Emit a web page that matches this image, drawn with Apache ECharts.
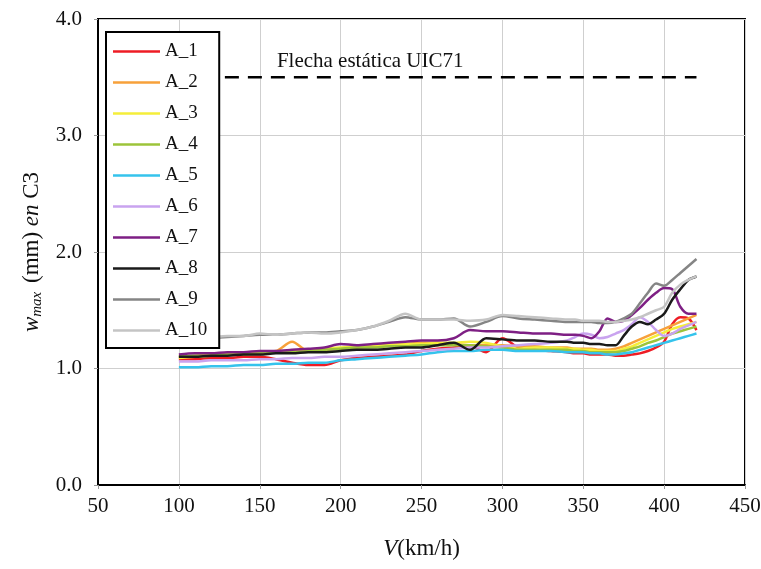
<!DOCTYPE html>
<html>
<head>
<meta charset="utf-8">
<script src="https://cdn.jsdelivr.net/npm/echarts@6/dist/echarts.min.js"></script>
<style>
html,body{margin:0;padding:0;background:#fff;}
#chart{width:761px;height:569px;}
</style>
</head>
<body>
<div id="chart"></div>
<script>
// Speeds (km/h)
var speeds = [100,110,120,130,140,150,160,170,180,190,200,210,220,230,240,250,260,270,280,290,300,310,320,330,340,
  345,350,355,360,365,370,375,380,385,390,395,400,405,410,415,420];

var seriesNames = ['A_1','A_2','A_3','A_4','A_5','A_6','A_7','A_8','A_9','A_10'];
var seriesColors = ['#ee1c25','#f7a13a','#f5ee3a','#9cc43a','#35c3ec','#c9a3ef','#7e1f84','#1a1a1a','#858585','#c4c4c4'];

var A_1 = [1.08,1.08,1.09,1.09,1.10,1.10,1.08,1.05,1.03,1.03,1.07,1.09,1.10,1.11,1.12,1.15,1.17,1.18,1.19,1.14,1.26,1.18,1.16,1.15,1.14,
  1.13,1.13,1.12,1.12,1.12,1.11,1.11,1.12,1.13,1.15,1.18,1.23,1.38,1.44,1.43,1.33];
var A_2 = [1.10,1.11,1.12,1.13,1.13,1.14,1.15,1.23,1.15,1.16,1.17,1.18,1.19,1.20,1.21,1.22,1.22,1.21,1.20,1.20,1.20,1.19,1.19,1.18,1.18,
  1.17,1.17,1.17,1.16,1.16,1.17,1.19,1.22,1.25,1.28,1.31,1.34,1.37,1.40,1.43,1.46];
var A_3 = [1.09,1.10,1.11,1.12,1.12,1.13,1.14,1.15,1.16,1.17,1.18,1.19,1.20,1.20,1.21,1.21,1.22,1.22,1.23,1.22,1.19,1.17,1.18,1.18,1.17,
  1.17,1.16,1.16,1.15,1.15,1.15,1.17,1.19,1.22,1.25,1.28,1.31,1.34,1.36,1.38,1.40];
var A_4 = [1.10,1.11,1.11,1.12,1.12,1.13,1.14,1.14,1.15,1.16,1.17,1.18,1.18,1.19,1.19,1.20,1.20,1.20,1.20,1.19,1.18,1.16,1.16,1.16,1.16,
  1.15,1.15,1.14,1.14,1.14,1.14,1.15,1.17,1.19,1.22,1.24,1.27,1.30,1.32,1.34,1.36];
var A_5 = [1.01,1.01,1.02,1.02,1.03,1.03,1.04,1.04,1.05,1.05,1.07,1.08,1.09,1.10,1.11,1.12,1.14,1.15,1.15,1.16,1.16,1.15,1.15,1.15,1.14,
  1.14,1.14,1.13,1.13,1.12,1.12,1.13,1.14,1.16,1.18,1.20,1.22,1.24,1.26,1.28,1.30];
var A_6 = [1.06,1.06,1.07,1.07,1.07,1.08,1.08,1.09,1.09,1.10,1.10,1.11,1.12,1.13,1.14,1.15,1.16,1.17,1.18,1.18,1.19,1.20,1.21,1.22,1.24,
  1.27,1.30,1.29,1.26,1.27,1.30,1.33,1.38,1.44,1.40,1.33,1.28,1.30,1.34,1.37,1.40];
var A_7 = [1.12,1.13,1.13,1.14,1.14,1.15,1.15,1.16,1.17,1.18,1.21,1.20,1.21,1.22,1.23,1.24,1.24,1.26,1.33,1.32,1.32,1.31,1.30,1.30,1.29,
  1.29,1.28,1.26,1.32,1.43,1.40,1.41,1.46,1.52,1.59,1.65,1.69,1.68,1.53,1.47,1.47];
var A_8 = [1.10,1.10,1.11,1.11,1.12,1.12,1.13,1.13,1.14,1.14,1.15,1.16,1.16,1.17,1.18,1.18,1.20,1.22,1.16,1.26,1.25,1.24,1.24,1.23,1.23,
  1.22,1.22,1.21,1.21,1.20,1.20,1.28,1.36,1.40,1.38,1.42,1.47,1.59,1.68,1.76,1.79];
var A_9 = [1.24,1.25,1.26,1.27,1.28,1.29,1.29,1.30,1.31,1.31,1.32,1.33,1.36,1.40,1.44,1.42,1.42,1.43,1.36,1.40,1.45,1.43,1.42,1.41,1.40,
  1.40,1.40,1.40,1.39,1.39,1.40,1.43,1.47,1.56,1.65,1.73,1.71,1.76,1.82,1.88,1.94];
var A_10 = [1.25,1.26,1.27,1.28,1.28,1.30,1.29,1.30,1.31,1.30,1.31,1.33,1.36,1.41,1.47,1.42,1.42,1.42,1.41,1.42,1.46,1.45,1.44,1.43,1.42,
  1.42,1.41,1.41,1.41,1.40,1.40,1.41,1.42,1.44,1.47,1.50,1.53,1.65,1.72,1.76,1.79];

// Static deflection reference (UIC71)
var uicSpeeds = [100, 420];
var uicValue = 3.5;
var uicLabel = 'Flecha estática UIC71';

var xTicks = [50,100,150,200,250,300,350,400,450];
var yTicks = [0,1,2,3,4];

var allValues = [A_1,A_2,A_3,A_4,A_5,A_6,A_7,A_8,A_9,A_10];

var FONT = '"Liberation Serif", "Times New Roman", serif';

var series = seriesNames.map(function(name, i){
  return {
    name: name,
    type: 'line',
    data: speeds.map(function(s, j){ return [s, allValues[i][j]]; }),
    symbol: 'none',
    smooth: 0.3,
    lineStyle: {color: seriesColors[i], width: 2.5},
    itemStyle: {color: seriesColors[i]},
    z: 2
  };
});

series.push({
  name: 'UIC71',
  type: 'line',
  symbol: 'none',
  data: uicSpeeds.map(function(s, k){
    var d = {value: [s, uicValue]};
    if (k === 0) {
      d.label = {show: true, position: 'right', offset: [93, -16], formatter: uicLabel,
        fontFamily: FONT, fontSize: 21, color: '#111'};
      d.symbol = 'circle'; d.symbolSize = 0.01;
    }
    return d;
  }),
  lineStyle: {color: '#000', width: 2.5, type: [14, 9]},
  itemStyle: {color: '#000'},
  z: 1
});

var chart = echarts.init(document.getElementById('chart'));
chart.setOption({
  animation: false,
  backgroundColor: '#fff',
  grid: {left: 98, right: 16, top: 19, bottom: 84, containLabel: false, outerBoundsMode: 'none',
    show: true, borderColor: '#000', borderWidth: 2, backgroundColor: 'transparent'},
  legend: {
    data: seriesNames.map(function(n, i){ return {name: n, icon: 'rect', itemStyle: {color: seriesColors[i]}}; }),
    orient: 'vertical',
    left: 106, top: 32,
    itemWidth: 47, itemHeight: 2.5, itemGap: 12,
    padding: [10, 12, 8, 7],
    backgroundColor: '#fff',
    borderColor: '#000', borderWidth: 2,
    textStyle: {fontFamily: FONT, fontSize: 19, color: '#111'},
    selectedMode: false
  },
  xAxis: {
    type: 'value', min: xTicks[0], max: xTicks[xTicks.length-1], interval: 50,
    name: '{i|V}(km/h)', nameLocation: 'middle', nameGap: 52,
    nameTextStyle: {fontFamily: FONT, fontSize: 23, color: '#111', rich: {i: {fontFamily: FONT, fontSize: 23, fontStyle: 'italic', color: '#111'}}},
    axisLine: {show: true, lineStyle: {color: '#000', width: 2}},
    axisTick: {show: true, length: 4, lineStyle: {color: '#999'}},
    axisLabel: {fontFamily: FONT, fontSize: 21, color: '#111', margin: 11},
    splitLine: {show: true, lineStyle: {color: '#cfcfcf', width: 1}}
  },
  yAxis: {
    type: 'value', min: yTicks[0], max: yTicks[yTicks.length-1], interval: 1,
    name: '{i|w}{s|max} (mm) {i|en} C3', nameLocation: 'middle', nameGap: 43,
    nameTextStyle: {fontFamily: FONT, fontSize: 23, color: '#111', rich: {
      i: {fontFamily: FONT, fontSize: 23, fontStyle: 'italic', color: '#111'},
      s: {fontFamily: FONT, fontSize: 15, fontStyle: 'italic', color: '#111', padding: [11, 3, 0, 0]}
    }},
    axisLine: {show: true, lineStyle: {color: '#000', width: 2}},
    axisTick: {show: true, length: 4, lineStyle: {color: '#999'}},
    axisLabel: {fontFamily: FONT, fontSize: 21, color: '#111', margin: 16, formatter: function(v){ return v.toFixed(1); }},
    splitLine: {show: true, lineStyle: {color: '#cfcfcf', width: 1}}
  },
  series: series
});
</script>
</body>
</html>
